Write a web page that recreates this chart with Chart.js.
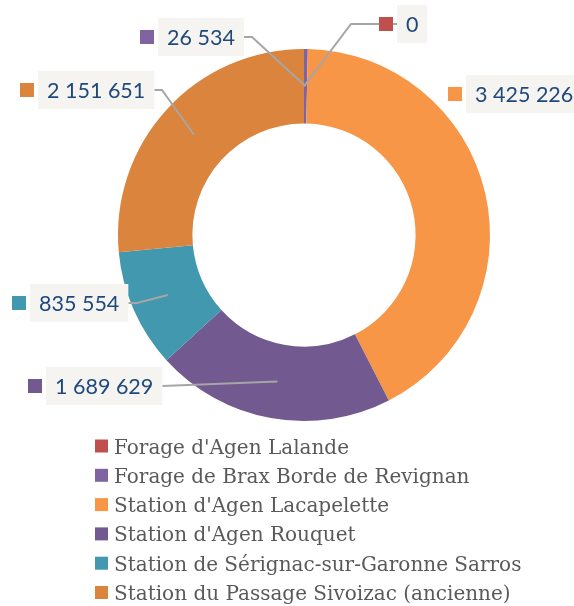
<!DOCTYPE html>
<html>
<head>
<meta charset="utf-8">
<script src="https://cdn.jsdelivr.net/npm/chart.js@4"></script>
<style>
  body { margin: 0; background: #fff; }
  canvas { display: block; }
</style>
</head>
<body>
<canvas id="myChart" width="574" height="606"></canvas>
<script>
// data
var labels = [
    "Forage d'Agen Lalande",
    "Forage de Brax Borde de Revignan",
    "Station d'Agen Lacapelette",
    "Station d'Agen Rouquet",
    "Station de Sérignac-sur-Garonne Sarros",
    "Station du Passage Sivoizac (ancienne)"
];
var volumes = [0, 26534, 3425226, 1689629, 835554, 2151651];
var colors = ['#C0504D', '#8064A2', '#F79646', '#72598F', '#4198AF', '#DB843D'];

// where each value box sits (box left edge, box middle y) and the elbow of its leader line
var boxLayout = [
    { x: 397, y: 24, side: 'left', elbow: 351 },
    { x: 158, y: 37, side: 'right', elbow: 252 },
    { x: 466, y: 94, side: 'none' },
    { x: 46, y: 386, side: 'right', elbow: null },
    { x: 30, y: 303, side: 'right', elbow: 137 },
    { x: 38, y: 90, side: 'right', elbow: 162 }
];

function fmt(v) {
    return String(v).replace(/\B(?=(\d{3})+(?!\d))/g, ' ');
}

var valueLabels = {
    id: 'valueLabels',
    afterDatasetsDraw: function(chart) {
        var ctx = chart.ctx;
        var arcs = chart.getDatasetMeta(0).data;
        ctx.save();
        ctx.font = '21.5px Lato, "Noto Sans", sans-serif';
        ctx.textBaseline = 'middle';
        arcs.forEach(function(arc, i) {
            var b = boxLayout[i];
            var txt = fmt(volumes[i]);
            var w = ctx.measureText(txt).width + 18;
            var h = 38;
            // leader line to the middle of the slice
            var p = arc.tooltipPosition();
            if (b.side !== 'none') {
                var sx = b.side === 'left' ? b.x : b.x + w;
                ctx.strokeStyle = '#A6A6A6';
                ctx.lineWidth = 2;
                ctx.beginPath();
                ctx.moveTo(sx, b.y);
                if (b.elbow !== null) ctx.lineTo(b.elbow, b.y);
                ctx.lineTo(p.x, p.y);
                ctx.stroke();
            }
            ctx.fillStyle = '#F5F4F0';
            ctx.fillRect(b.x, b.y - h / 2, w, h);
            ctx.fillStyle = colors[i];
            ctx.fillRect(b.x - 18, b.y - 7, 14, 14);
            ctx.fillStyle = '#1F497D';
            ctx.fillText(txt, b.x + 9, b.y + 1);
        });
        ctx.restore();
    }
};

var sideLegend = {
    id: 'sideLegend',
    afterDraw: function(chart) {
        var ctx = chart.ctx;
        ctx.save();
        ctx.font = '20px "DejaVu Serif", serif';
        ctx.textBaseline = 'alphabetic';
        labels.forEach(function(name, i) {
            var cy = 446 + i * 29.3;
            ctx.fillStyle = colors[i];
            ctx.fillRect(95, cy - 6.5, 13, 13);
            ctx.fillStyle = '#595959';
            ctx.fillText(name, 114, cy + 7.5);
        });
        ctx.restore();
    }
};

function load() {
    var ctx = document.getElementById('myChart').getContext('2d');
    var myChart = new Chart(ctx, {
        type: 'doughnut',
        data: {
            labels: labels,
            datasets: [{
                data: volumes,
                backgroundColor: colors,
                borderWidth: 0,
                hoverOffset: 0
            }]
        },
        options: {
            responsive: false,
            animation: false,
            events: [],
            cutout: '60%',
            layout: { padding: { left: 118, right: 84, top: 49, bottom: 185 } },
            plugins: {
                legend: { display: false },
                tooltip: { enabled: false }
            }
        },
        plugins: [valueLabels, sideLegend]
    });
}

window.onload = load;
</script>
</body>
</html>
